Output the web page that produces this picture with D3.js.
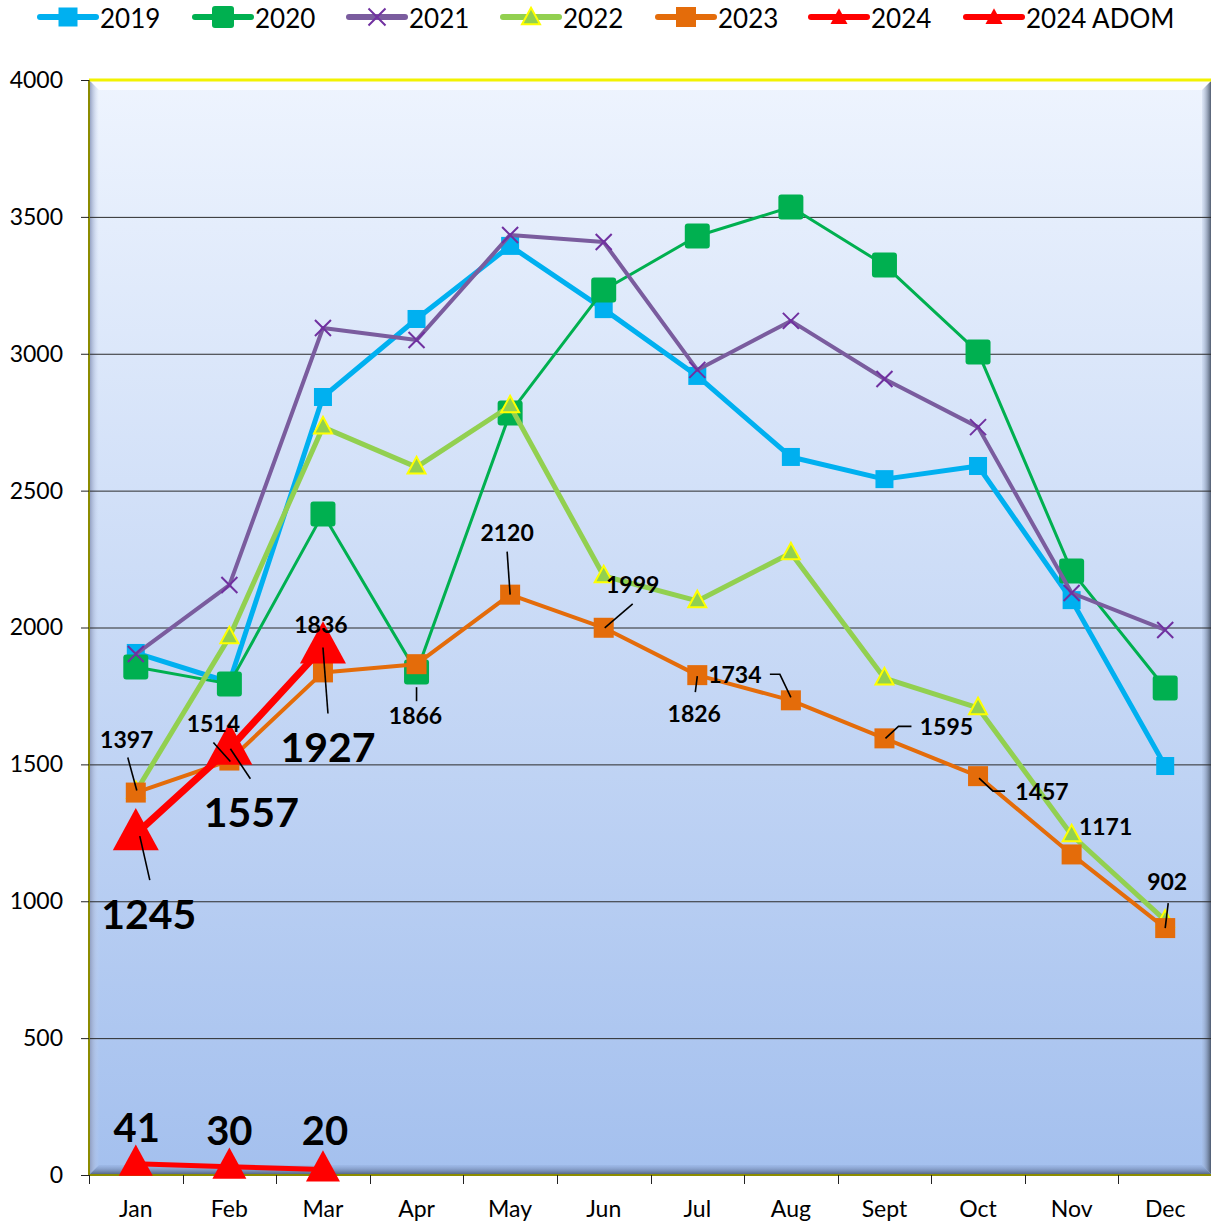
<!DOCTYPE html>
<html>
<head>
<meta charset="utf-8">
<script src="https://cdn.jsdelivr.net/npm/d3@7"></script>
<style>
  body { margin: 0; background: #fff; }
  svg text { font-family: Lato, "Open Sans", sans-serif; }
</style>
</head>
<body>
<div id="holder"></div>
<script>
// data
var months = ["Jan", "Feb", "Mar", "Apr", "May", "Jun", "Jul", "Aug", "Sept", "Oct", "Nov", "Dec"];
var yTicks = [0, 500, 1000, 1500, 2000, 2500, 3000, 3500, 4000];
var v2019 = [1907, 1800, 2842, 3127, 3394, 3163, 2919, 2623, 2542, 2590, 2100, 1494];
var v2020 = [1856, 1794, 2415, 1837, 2784, 3233, 3430, 3536, 3324, 3006, 2206, 1779];
var v2021 = [1903, 2155, 3094, 3050, 3434, 3408, 2941, 3120, 2908, 2732, 2126, 1991];
var v2022 = [1400, 1965, 2732, 2586, 2809, 2188, 2097, 2272, 1815, 1706, 1242, 930];
var v2023 = [1397, 1514, 1836, 1866, 2120, 1999, 1826, 1734, 1595, 1457, 1171, 902];
var v2024 = [1245, 1557, 1927];
var v2024adom = [41, 30, 20];

// label layout (offsets from the point, px) - kept apart from the data
var lab2023 = [
  {dx: -9, dy: -54, lead: [[-8, -35], [1, -2]]},
  {dx: -16, dy: -38, lead: [[-16, -18], [1, 1]]},
  {dx: -2, dy: -48},
  {dx: -1, dy: 51, lead: [[0, 37], [0, 23]]},
  {dx: -3, dy: -63, lead: [[-3, -43], [0, 0]]},
  {dx: 29, dy: -44, lead: [[29, -24], [1, 0]]},
  {dx: -3, dy: 38, lead: [[-2, 17], [0, 1]]},
  {dx: -56, dy: -26, lead: [[-21, -26], [-11, -26], [0, -3]]},
  {dx: 62, dy: -12, lead: [[27, -12], [14, -12], [1, 0]]},
  {dx: 64, dy: 15, lead: [[27, 15], [15, 15], [1, 2]]},
  {dx: 34, dy: -28},
  {dx: 2, dy: -47, lead: [[3, -25], [0, 0]]}
];
var lab2024 = [
  {dx: 13, dy: 79, lead: [[14, 46], [4, 2]]},
  {dx: 22, dy: 63, lead: [[21, 30], [1, 0]]},
  {dx: 5, dy: 99, lead: [[5, 66], [0, 0]]}
];
var labAdom = [{dx: 1, dy: -37}, {dx: 0, dy: -37}, {dx: 2, dy: -40}];

var WIDTH = 1211, HEIGHT = 1224,
    MARGINS = {top: 80, right: 0, bottom: 49, left: 89};

var svg = d3.select("#holder").append("svg")
    .attr("width", WIDTH)
    .attr("height", HEIGHT);

var x = d3.scaleBand()
    .domain(months)
    .range([MARGINS.left, WIDTH + 1]);
var y = d3.scaleLinear()
    .domain([0, 4000])
    .range([HEIGHT - MARGINS.bottom, MARGINS.top]);
var cx = function(i) { return x(months[i]) + x.bandwidth() / 2; };

var x0 = MARGINS.left, x1 = WIDTH + 1, y0 = y(4000), y1 = y(0);

// plot area with the bevel look
var defs = svg.append("defs");
var bg = defs.append("linearGradient").attr("id", "bg")
    .attr("x1", 0).attr("y1", 0).attr("x2", 0).attr("y2", 1);
bg.append("stop").attr("offset", 0).attr("stop-color", "#eef4fe");
bg.append("stop").attr("offset", 1).attr("stop-color", "#a4c0ee");
var rs = defs.append("linearGradient").attr("id", "rs")
    .attr("x1", 0).attr("y1", 0).attr("x2", 1).attr("y2", 0);
rs.append("stop").attr("offset", 0).attr("stop-color", "#9fb3d6").attr("stop-opacity", 0.2);
rs.append("stop").attr("offset", 1).attr("stop-color", "#3b4658");
var bs = defs.append("linearGradient").attr("id", "bs")
    .attr("x1", 0).attr("y1", 0).attr("x2", 0).attr("y2", 1);
bs.append("stop").attr("offset", 0).attr("stop-color", "#8ea8d8").attr("stop-opacity", 0.3);
bs.append("stop").attr("offset", 1).attr("stop-color", "#4a5a78");
var ls = defs.append("linearGradient").attr("id", "ls")
    .attr("x1", 0).attr("y1", 0).attr("x2", 1).attr("y2", 0);
ls.append("stop").attr("offset", 0).attr("stop-color", "#8794b8");
ls.append("stop").attr("offset", 1).attr("stop-color", "#c8d6f0").attr("stop-opacity", 0);

svg.append("rect")
    .attr("x", x0).attr("y", y0)
    .attr("width", x1 - x0).attr("height", y1 - y0)
    .attr("fill", "url(#bg)");
var b = 10;
svg.append("path")
    .attr("d", "M" + x0 + "," + y0 + "L" + x1 + "," + y0 + "L" + (x1 - b) + "," + (y0 + b) + "L" + (x0 + b) + "," + (y0 + b) + "Z")
    .attr("fill", "#ffffff").attr("opacity", 0.8);
svg.append("path")
    .attr("d", "M" + x0 + "," + y0 + "L" + (x0 + b) + "," + (y0 + b) + "L" + (x0 + b) + "," + (y1 - b) + "L" + x0 + "," + y1 + "Z")
    .attr("fill", "url(#ls)");
svg.append("path")
    .attr("d", "M" + x1 + "," + y0 + "L" + x1 + "," + y1 + "L" + (x1 - b) + "," + (y1 - b) + "L" + (x1 - b) + "," + (y0 + b) + "Z")
    .attr("fill", "url(#rs)");
svg.append("path")
    .attr("d", "M" + x0 + "," + y1 + "L" + x1 + "," + y1 + "L" + (x1 - b) + "," + (y1 - b) + "L" + (x0 + b) + "," + (y1 - b) + "Z")
    .attr("fill", "url(#bs)");

// grid
svg.append("g")
    .selectAll("line")
    .data(yTicks.filter(function(t) { return t > 0 && t < 4000; }))
    .join("line")
    .attr("x1", x0).attr("x2", x1)
    .attr("y1", function(d) { return y(d) + 0.5; })
    .attr("y2", function(d) { return y(d) + 0.5; })
    .attr("stroke", "#2b2b2b").attr("stroke-width", 1);

// border lines
svg.append("line").attr("x1", x0).attr("x2", x1).attr("y1", y0).attr("y2", y0)
    .attr("stroke", "#f2f200").attr("stroke-width", 3);
svg.append("line").attr("x1", x0).attr("x2", x0).attr("y1", y0).attr("y2", y1)
    .attr("stroke", "#8c8c00").attr("stroke-width", 2);
svg.append("line").attr("x1", x0).attr("x2", x1).attr("y1", y1).attr("y2", y1)
    .attr("stroke", "#8c8c00").attr("stroke-width", 2);

// axes
var yAxis = svg.append("g")
    .attr("transform", "translate(" + x0 + ",0)")
    .call(d3.axisLeft(y).tickValues(yTicks).tickFormat(d3.format("d")).tickSize(8).tickPadding(18));
yAxis.select(".domain").remove();
yAxis.selectAll("line").attr("stroke", "#222");
yAxis.selectAll("text").attr("font-size", 23).attr("fill", "#000")
    .attr("font-family", "Lato, 'Open Sans', sans-serif");

var xAxis = svg.append("g")
    .attr("transform", "translate(0," + y1 + ")")
    .call(d3.axisBottom(x).tickSize(0).tickPadding(26));
xAxis.select(".domain").remove();
xAxis.selectAll("text").attr("font-size", 23).attr("fill", "#000")
    .attr("font-family", "Lato, 'Open Sans', sans-serif");
svg.append("g").selectAll("line")
    .data(months.concat(["end"]))
    .join("line")
    .attr("x1", function(d, i) { return Math.round(x0 + i * x.step()) + 0.5; })
    .attr("x2", function(d, i) { return Math.round(x0 + i * x.step()) + 0.5; })
    .attr("y1", y1).attr("y2", y1 + 9)
    .attr("stroke", "#222");

// series
var line = d3.line()
    .x(function(d, i) { return cx(i); })
    .y(function(d) { return y(d); });

var series = [
  {name: "2019", vals: v2019, color: "#00b0f0", width: 5, marker: "square", size: 18},
  {name: "2020", vals: v2020, color: "#00b050", width: 3, marker: "rsquare", size: 25},
  {name: "2021", vals: v2021, color: "#7a5c9e", width: 4, marker: "x", size: 16, mcolor: "#7030a0"},
  {name: "2022", vals: v2022, color: "#92d050", width: 5, marker: "triangle", size: 18, mstroke: "#ffff00"},
  {name: "2023", vals: v2023, color: "#e46c0a", width: 4, marker: "square", size: 20},
  {name: "2024", vals: v2024, color: "#ff0000", width: 7, marker: "triangle", size: 46},
  {name: "2024 ADOM", vals: v2024adom, color: "#ff0000", width: 5, marker: "triangle", size: 34}
];

function drawMarker(g, s, px, py, sizeOverride) {
  var sz = sizeOverride || s.size;
  if (s.marker === "square" || s.marker === "rsquare") {
    g.append("rect")
      .attr("x", px - sz / 2).attr("y", py - sz / 2)
      .attr("width", sz).attr("height", sz)
      .attr("rx", s.marker === "rsquare" ? 3 : 0)
      .attr("fill", s.color);
  } else if (s.marker === "x") {
    var h = sz / 2;
    g.append("path")
      .attr("d", "M" + (px - h) + "," + (py - h) + "L" + (px + h) + "," + (py + h) +
                 "M" + (px - h) + "," + (py + h) + "L" + (px + h) + "," + (py - h))
      .attr("stroke", s.mcolor).attr("stroke-width", 2).attr("fill", "none");
  } else {
    var w = sz, ht = sz * 0.92;
    g.append("path")
      .attr("d", "M" + px + "," + (py - ht * 0.62) + "L" + (px + w / 2) + "," + (py + ht * 0.38) +
                 "L" + (px - w / 2) + "," + (py + ht * 0.38) + "Z")
      .attr("fill", s.color)
      .attr("stroke", s.mstroke || "none")
      .attr("stroke-width", s.mstroke ? 2 : 0);
  }
}

series.forEach(function(s) {
  var g = svg.append("g");
  g.append("path")
    .datum(s.vals)
    .attr("fill", "none")
    .attr("stroke", s.color)
    .attr("stroke-width", s.width)
    .attr("stroke-linejoin", "round")
    .attr("d", line);
  s.vals.forEach(function(v, i) { drawMarker(g, s, cx(i), y(v)); });
});

// data labels
function drawLabels(vals, layout, fontSize) {
  var g = svg.append("g");
  vals.forEach(function(v, i) {
    var px = cx(i), py = y(v), L = layout[i];
    if (L.lead) {
      g.append("path")
        .attr("d", d3.line()(L.lead.map(function(p) { return [px + p[0], py + p[1]]; })))
        .attr("stroke", "#000").attr("stroke-width", 1.6).attr("fill", "none");
    }
    g.append("text")
      .attr("x", px + L.dx).attr("y", py + L.dy)
      .attr("text-anchor", "middle")
      .attr("dominant-baseline", "central")
      .attr("font-size", fontSize)
      .attr("font-weight", "bold")
      .attr("fill", "#000")
      .text(v);
  });
}
drawLabels(v2023, lab2023, 23);
drawLabels(v2024, lab2024, 41);
drawLabels(v2024adom, labAdom, 40);

// legend
var legX = [40, 195, 349, 503, 658, 811, 966];
var legSize = [19, 22, 17, 18, 20, 17, 17];
var leg = svg.append("g");
series.forEach(function(s, i) {
  var lx = legX[i], ly = 17, len = 56;
  leg.append("line")
    .attr("x1", lx).attr("x2", lx + len).attr("y1", ly).attr("y2", ly)
    .attr("stroke", s.color).attr("stroke-width", 6)
    .attr("stroke-linecap", "round");
  drawMarker(leg, s, lx + len / 2, ly + (s.marker === "triangle" ? 1 : 0), legSize[i]);
  leg.append("text")
    .attr("x", lx + len + 4).attr("y", ly + 1)
    .attr("dominant-baseline", "central")
    .attr("font-size", 26)
    .attr("fill", "#000")
    .text(s.name);
});
</script>
</body>
</html>
